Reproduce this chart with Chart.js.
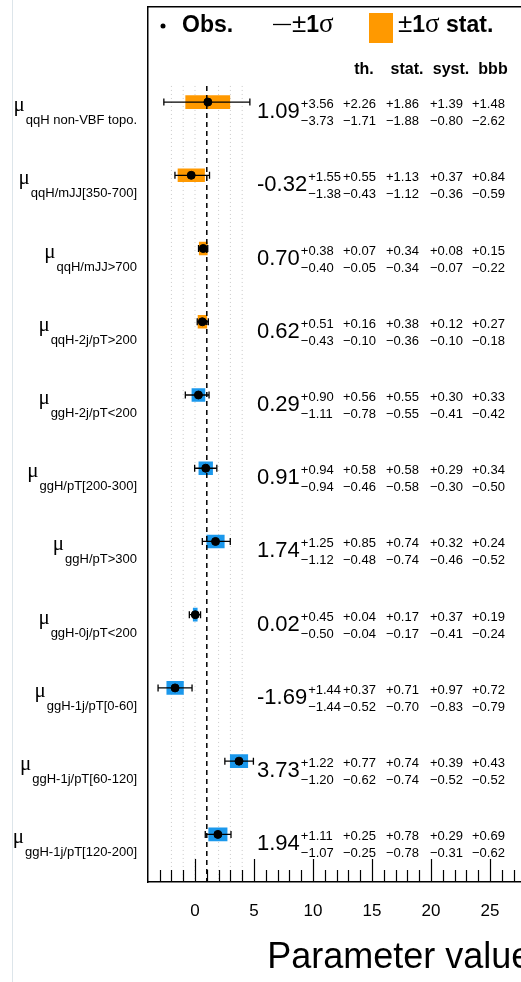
<!DOCTYPE html>
<html>
<head>
<meta charset="utf-8">
<script src="https://cdn.jsdelivr.net/npm/chart.js@4.4.0/dist/chart.umd.min.js"></script>
<style>
  html, body { margin: 0; padding: 0; background: #fff; overflow: hidden; }
  #wrap { position: relative; width: 540px; height: 982px; }
  #edge { position: absolute; left: 12px; top: 0; width: 1px; height: 982px; background: #dde5ea; }
</style>
</head>
<body>
<div id="wrap"><div id="edge"></div><canvas id="poiChart" width="540" height="982"></canvas></div>
<script>
// POI names (subscripts of mu), top to bottom
var names = ["qqH non-VBF topo.", "qqH/mJJ[350-700]", "qqH/mJJ>700", "qqH-2j/pT>200", "ggH-2j/pT<200",
             "ggH/pT[200-300]", "ggH/pT>300", "ggH-0j/pT<200", "ggH-1j/pT[0-60]", "ggH-1j/pT[60-120]", "ggH-1j/pT[120-200]"];
var process = ["qqH", "qqH", "qqH", "qqH", "ggH", "ggH", "ggH", "ggH", "ggH", "ggH", "ggH"];

// best fit values and total uncertainty
var bestFit = [1.09, -0.32, 0.70, 0.62, 0.29, 0.91, 1.74, 0.02, -1.69, 3.73, 1.94];
var totUp   = [3.56, 1.55, 0.38, 0.51, 0.90, 0.94, 1.25, 0.45, 1.44, 1.22, 1.11];
var totDn   = [3.73, 1.38, 0.40, 0.43, 1.11, 0.94, 1.12, 0.50, 1.44, 1.20, 1.07];

// breakdown: th. / stat. / syst. / bbb
var thUp   = [2.26, 0.55, 0.07, 0.16, 0.56, 0.58, 0.85, 0.04, 0.37, 0.77, 0.25];
var thDn   = [1.71, 0.43, 0.05, 0.10, 0.78, 0.46, 0.48, 0.04, 0.52, 0.62, 0.25];
var statUp = [1.86, 1.13, 0.34, 0.38, 0.55, 0.58, 0.74, 0.17, 0.71, 0.74, 0.78];
var statDn = [1.88, 1.12, 0.34, 0.36, 0.55, 0.58, 0.74, 0.17, 0.70, 0.74, 0.78];
var systUp = [1.39, 0.37, 0.08, 0.12, 0.30, 0.29, 0.32, 0.37, 0.97, 0.39, 0.29];
var systDn = [0.80, 0.36, 0.07, 0.10, 0.41, 0.30, 0.46, 0.41, 0.83, 0.52, 0.31];
var bbbUp  = [1.48, 0.84, 0.15, 0.27, 0.33, 0.34, 0.24, 0.19, 0.72, 0.43, 0.69];
var bbbDn  = [2.62, 0.59, 0.22, 0.18, 0.42, 0.50, 0.52, 0.24, 0.79, 0.52, 0.62];

var breakdownNames = ["th.", "stat.", "syst.", "bbb"];
var xTickVals = [0, 5, 10, 15, 20, 25];
var guideVals = [-2, -1, 0, 2, 3, 4];
var smValue = 1;

var colors = { qqH: "#ff9900", ggH: "#1b98ec" };
var FONT = "'Liberation Sans', Arial, sans-serif";
var SERIF = "'Liberation Serif', serif";
var rows = names.map(function (n, i) { return i; });
var lineTop = -0.22, lineBottom = 10.65;

var datasets = [];

// dotted guide lines
guideVals.forEach(function (v) {
  datasets.push({
    type: "line", data: [{ x: v, y: lineTop }, { x: v, y: lineBottom }],
    borderColor: "#c9c9c9", borderWidth: 1, borderDash: [1, 3], pointRadius: 0, order: 6
  });
});

// stat. uncertainty boxes
datasets.push({
  type: "bar", indexAxis: "y",
  data: rows.map(function (i) { return { y: i, x: [bestFit[i] - statDn[i], bestFit[i] + statUp[i]] }; }),
  backgroundColor: rows.map(function (i) { return colors[process[i]]; }),
  barThickness: 13, grouped: false, order: 5
});

// SM expectation
datasets.push({
  type: "line", data: [{ x: smValue, y: lineTop }, { x: smValue, y: lineBottom }],
  borderColor: "#000", borderWidth: 1.5, borderDash: [5, 4], pointRadius: 0, order: 4
});

// total uncertainty error bars
rows.forEach(function (i) {
  datasets.push({
    type: "line", data: [{ x: bestFit[i] - totDn[i], y: i }, { x: bestFit[i] + totUp[i], y: i }],
    borderColor: "#000", borderWidth: 1.3, pointStyle: "line", rotation: 90, pointRadius: 3.5,
    pointBorderWidth: 1.3, pointBorderColor: "#000", order: 2
  });
});

// observed values
datasets.push({
  type: "scatter", data: rows.map(function (i) { return { x: bestFit[i], y: i }; }),
  backgroundColor: "#000", borderColor: "#000", pointRadius: 4, order: 1
});

function fmt(v) { return v.toFixed(2); }

// writes a run of [text, fontString] pieces starting at x
function drawRuns(ctx, x, y, runs) {
  runs.forEach(function (r) {
    ctx.font = r[1];
    ctx.fillText(r[0], x, y);
    x += ctx.measureText(r[0]).width;
  });
}

var overlay = {
  id: "overlay",
  afterDraw: function (chart) {
    var ctx = chart.ctx;
    var xs = chart.scales.x, ys = chart.scales.y;
    var area = chart.chartArea;
    ctx.save();
    ctx.fillStyle = "#000";
    ctx.strokeStyle = "#000";
    ctx.textBaseline = "alphabetic";

    // inward ticks on the bottom axis
    ctx.lineWidth = 1.2;
    for (var t = -3; t <= 28; t++) {
      var px = Math.round(xs.getPixelForValue(t)) + 0.5;
      var len = (t % 5 === 0) ? 23 : 12;
      ctx.beginPath();
      ctx.moveTo(px, area.bottom);
      ctx.lineTo(px, area.bottom - len);
      ctx.stroke();
    }

    // legend
    var pm = ["\u00b1", "26px " + FONT], one = ["1", "bold 23px " + FONT], sig = ["\u03c3", "27px " + SERIF];
    ctx.beginPath();
    ctx.arc(163, 26, 2.5, 0, Math.PI * 2);
    ctx.fill();
    ctx.textAlign = "left";
    drawRuns(ctx, 182, 32, [["Obs.", "bold 23px " + FONT]]);
    ctx.lineWidth = 1.3;
    ctx.beginPath();
    ctx.moveTo(273, 24.5);
    ctx.lineTo(291, 24.5);
    ctx.stroke();
    drawRuns(ctx, 292, 32, [pm, one, sig]);
    ctx.fillStyle = colors.qqH;
    ctx.fillRect(369, 13, 24, 30);
    ctx.fillStyle = "#000";
    drawRuns(ctx, 398, 32, [pm, one, sig, [" stat.", "bold 23px " + FONT]]);

    // breakdown header
    var colX = [343, 386, 430, 472];
    ctx.font = "bold 16px " + FONT;
    ctx.textAlign = "center";
    breakdownNames.forEach(function (h, k) { ctx.fillText(h, colX[k] + 21, 74); });

    var ups = [thUp, statUp, systUp, bbbUp];
    var dns = [thDn, statDn, systDn, bbbDn];

    rows.forEach(function (i) {
      var py = ys.getPixelForValue(i);

      // row label: mu with subscript
      ctx.textAlign = "left";
      ctx.font = "13px " + FONT;
      var subW = ctx.measureText(names[i]).width;
      ctx.fillText(names[i], 137 - subW, py + 22);
      ctx.font = "21px " + SERIF;
      var muW = ctx.measureText("\u03bc").width;
      ctx.fillText("\u03bc", 137 - subW - muW - 1, py + 9);

      // best fit value with total uncertainty
      ctx.font = "22px " + FONT;
      var val = fmt(bestFit[i]);
      ctx.fillText(val, 257, py + 16);
      var vx = 257 + ctx.measureText(val).width + 1;
      ctx.font = "13px " + FONT;
      ctx.fillText("+" + fmt(totUp[i]), vx, py + 6);
      ctx.fillText("\u2212" + fmt(totDn[i]), vx, py + 23);

      // breakdown columns
      colX.forEach(function (cx, k) {
        ctx.fillText("+" + fmt(ups[k][i]), cx, py + 6);
        ctx.fillText("\u2212" + fmt(dns[k][i]), cx, py + 23);
      });
    });
    ctx.restore();
  }
};

new Chart(document.getElementById("poiChart"), {
  type: "scatter",
  data: { datasets: datasets },
  options: {
    responsive: false,
    animation: false,
    layout: { padding: { left: 147.8, right: 8.7, top: 7, bottom: 0 } },
    plugins: { legend: { display: false }, tooltip: { enabled: false } },
    scales: {
      x: {
        type: "linear", position: "bottom", min: -4, max: 28.5, offset: false,
        afterBuildTicks: function (s) { s.ticks = xTickVals.map(function (v) { return { value: v }; }); },
        afterFit: function (s) { s.height = 100; },
        grid: { display: false, drawTicks: false },
        border: { display: true, color: "#000", width: 1.5 },
        ticks: { color: "#000", font: { family: FONT, size: 17 }, padding: 19, maxRotation: 0, autoSkip: false },
        title: { display: true, text: "Parameter value", align: "end", color: "#000",
                 font: { family: FONT, size: 36 }, padding: { top: 12, bottom: 2 } }
      },
      xTop: {
        type: "linear", position: "top", min: -4, max: 28.5,
        grid: { display: false, drawTicks: false },
        ticks: { display: false },
        border: { display: true, color: "#000", width: 1.5 }
      },
      y: {
        type: "linear", reverse: true, min: -1.298, max: 10.65, offset: false,
        grid: { display: false, drawTicks: false, offset: false },
        ticks: { display: false },
        border: { display: true, color: "#000", width: 1.5 }
      }
    }
  },
  plugins: [overlay]
});
</script>
</body>
</html>
